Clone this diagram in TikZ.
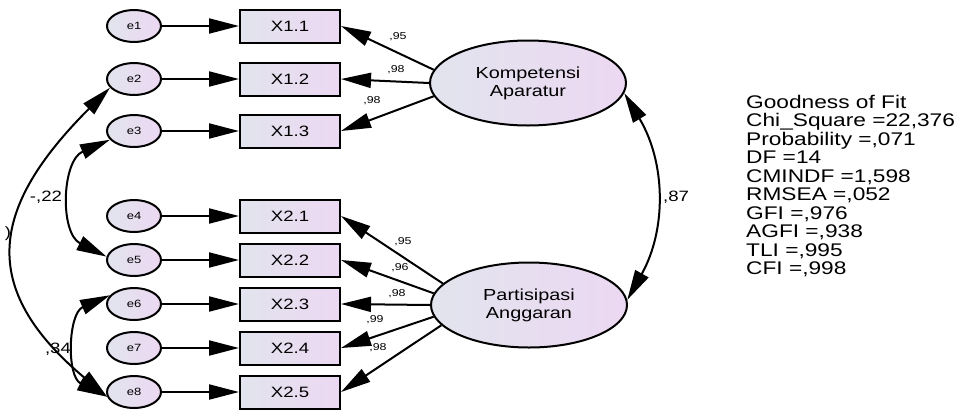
\documentclass[tikz,border=0pt]{standalone}
\usepackage{fontspec}
\setmainfont{Liberation Sans}[FakeStretch=1.24]
\usepackage{xcolor}
\usepackage{tikz}
\usetikzlibrary{shapes, arrows.meta, positioning, calc}

\definecolor{gradL}{RGB}{226,228,238}
\definecolor{gradR}{RGB}{236,216,242}

\begin{document}
\begin{tikzpicture}[x=1pt, y=1pt,
    err/.style={ellipse, draw, line width=2pt, left color=gradL, right color=gradR, minimum width=54pt, minimum height=32pt, inner sep=0pt, font=\fontsize{10.5}{12}\selectfont},
    ind/.style={rectangle, draw, line width=2pt, left color=gradL, right color=gradR, minimum width=100pt, minimum height=33pt, inner sep=0pt, font=\fontsize{15}{18}\selectfont},
    lat/.style={ellipse, draw, line width=2pt, left color=gradL, right color=gradR, minimum width=196pt, minimum height=85pt, align=center, inner sep=0pt, font=\fontsize{16}{18}\selectfont},
    load/.style={-{Triangle[length=30pt, width=15pt]}, line width=2pt},
    cov/.style={{Triangle[length=30pt, width=15pt]}-{Triangle[length=30pt, width=15pt]}, line width=2pt},
    coef/.style={font=\fontsize{10}{12}\selectfont, inner sep=0pt},
    corr/.style={font=\fontsize{15}{18}\selectfont, inner sep=0pt}]
      \useasboundingbox (0,0) rectangle (965,-410);

      % error terms
      \node[err] (e1) at (134,-26) {e1};
      \node[err] (e2) at (134,-79) {e2};
      \node[err] (e3) at (134,-131) {e3};
      \node[err] (e4) at (134,-216) {e4};
      \node[err] (e5) at (134,-260) {e5};
      \node[err] (e6) at (134,-304) {e6};
      \node[err] (e7) at (134,-348) {e7};
      \node[err] (e8) at (134,-392) {e8};

      % indicators
      \node[ind] (X11) at (290,-26) {X1.1};
      \node[ind] (X12) at (290,-79) {X1.2};
      \node[ind] (X13) at (290,-131) {X1.3};
      \node[ind] (X21) at (290,-216) {X2.1};
      \node[ind] (X22) at (290,-260) {X2.2};
      \node[ind] (X23) at (290,-304) {X2.3};
      \node[ind] (X24) at (290,-348) {X2.4};
      \node[ind] (X25) at (290,-392) {X2.5};

      % latent variables
      \node[lat] (K) at (528,-83) {Kompetensi\\Aparatur};
      \node[lat] (P) at (529,-305) {Partisipasi\\Anggaran};

      \draw[load] (e1) -- (X11);
      \draw[load] (e2) -- (X12);
      \draw[load] (e3) -- (X13);
      \draw[load] (e4) -- (X21);
      \draw[load] (e5) -- (X22);
      \draw[load] (e6) -- (X23);
      \draw[load] (e7) -- (X24);
      \draw[load] (e8) -- (X25);

      \draw[load] (K.172) -- (X11.east);
      \draw[load] (K.west) -- (X12.east);
      \draw[load] (K.188) -- (X13.east);

      \draw[load] (P.166) -- (X21.east);
      \draw[load] (P.173) -- (X22.east);
      \draw[load] (P.west) -- (X23.east);
      \draw[load] (P.187) -- (X24.east);
      \draw[load] (P.193) -- (X25.east);

      \node[coef] (k1) at (398,-37) {,95};
      \node[coef] (k2) at (396,-70) {,98};
      \node[coef] (k3) at (372,-101) {,98};
      \node[coef] (p1) at (403,-242) {,95};
      \node[coef] (p2) at (400,-268) {,96};
      \node[coef] (p3) at (397,-294) {,98};
      \node[coef] (p4) at (375,-320) {,99};
      \node[coef] (p5) at (378,-348) {,98};

      % covariances
      \draw[cov] (e2.200) to[out=225, in=140, looseness=1.4] (e8.190);
      \draw[cov] (e3.200) to[bend right=65, looseness=1.15] (e5.173);
      \draw[cov] (e6.160) to[bend right=65, looseness=1.15] (e8.190);
      \draw[cov] (K.-6) to[bend left=30] (P.3);

      \node[corr] (c28) at (8,-234) {)};
      \node[corr] (c35) at (46,-197) {-,22};
      \node[corr] (c68) at (58,-349) {,34};
      \node[corr] (ckp) at (676,-197) {,87};

      \node[anchor=north west, align=left, inner sep=0pt, font=\fontsize{18.3}{18.5}\selectfont] (fit) at (746,-95)
        {Goodness of Fit\\Chi\_Square =22,376\\Probability =,071\\DF =14\\CMINDF =1,598\\RMSEA =,052\\GFI =,976\\AGFI =,938\\TLI =,995\\CFI =,998};
    \end{tikzpicture}
\end{document}
